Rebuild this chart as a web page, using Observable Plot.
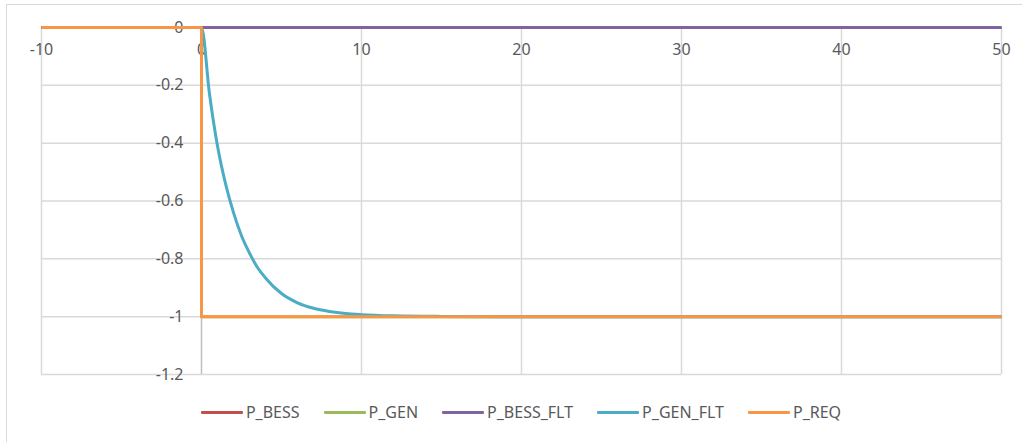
<!DOCTYPE html>
<html>
<head>
<meta charset="utf-8">
<script src="https://cdn.jsdelivr.net/npm/d3@7"></script>
<script src="https://cdn.jsdelivr.net/npm/@observablehq/plot@0.6"></script>
<style>
  html, body { margin: 0; padding: 0; background: #fff; overflow: hidden; }
  #wrap { position: relative; width: 1022px; height: 442px; font-family: "Noto Sans", sans-serif; }
  #frame { position: absolute; left: 6px; top: 4px; width: 1040px; height: 460px; border: 1.5px solid #d9d9d9; box-sizing: border-box; }
  #chart { position: absolute; left: 0; top: 0; }
  #legend { position: absolute; left: 41px; width: 960px; top: 401px; display: flex; justify-content: center; gap: 24px; color: #595959; font-size: 16px; }
  .item { display: flex; align-items: center; gap: 3px; }
  .sw { width: 42px; height: 3px; border-radius: 1px; }
</style>
</head>
<body>
<div id="wrap">
  <div id="frame"></div>
  <div id="chart"></div>
  <div id="legend"></div>
</div>
<script>
const seriesNames = ["P_BESS", "P_GEN", "P_BESS_FLT", "P_GEN_FLT", "P_REQ"];
const seriesColors = ["#C0504D", "#9BBB59", "#8064A2", "#4BACC6", "#F79646"];

const xTicks = [-10, 0, 10, 20, 30, 40, 50];
const yTicks = [0, -0.2, -0.4, -0.6, -0.8, -1, -1.2];

// step series
const stepT = [-10, 0, 0, 50];
const bessVals = [0, 0, 0, 0];
const genVals = [0, 0, -1, -1];
const reqVals = [0, 0, -1, -1];
// filtered series
const bessFltT = [-10, 0, 50];
const bessFltVals = [0, 0, 0];
const genFltT = [-10, 0, 0.5, 1, 1.5, 2, 2.5, 3, 3.5, 4, 5, 6, 7, 8, 9, 10, 12, 15, 20, 30, 40, 50];
const genFltVals = [0, 0, -0.23, -0.41, -0.54, -0.64, -0.72, -0.78, -0.83, -0.866, -0.92, -0.952, -0.971, -0.982, -0.989, -0.993, -0.997, -0.999, -1, -1, -1, -1];

const rows = [];
stepT.forEach((t, i) => rows.push({s: "P_BESS", t, v: bessVals[i], i}));
stepT.forEach((t, i) => rows.push({s: "P_GEN", t, v: genVals[i], i}));
bessFltT.forEach((t, i) => rows.push({s: "P_BESS_FLT", t, v: bessFltVals[i], i}));
genFltT.forEach((t, i) => rows.push({s: "P_GEN_FLT", t, v: genFltVals[i], i}));
stepT.forEach((t, i) => rows.push({s: "P_REQ", t, v: reqVals[i], i}));

const fmt = d => String(d);
const gridColor = "#d9d9d9";

const chart = Plot.plot({
  width: 1022,
  height: 395,
  marginLeft: 41,
  marginRight: 21,
  marginTop: 27,
  marginBottom: 21,
  style: {fontFamily: "Noto Sans, sans-serif", fontSize: "16px", background: "transparent"},
  x: {domain: [-10, 50], axis: null},
  y: {domain: [-1.2, 0], axis: null},
  color: {domain: seriesNames, range: seriesColors},
  marks: [
    Plot.ruleY(yTicks.filter(d => d !== 0), {y: d => d, x1: -10, x2: 50, stroke: gridColor, strokeWidth: 1.5}),
    Plot.ruleX(xTicks.filter(d => d !== 0), {x: d => d, y1: 0, y2: -1.2, stroke: gridColor, strokeWidth: 1.5}),
    Plot.ruleX([0], {x: d => d, y1: 0, y2: -1.2, stroke: "#bfbfbf", strokeWidth: 1.5}),
    Plot.ruleY([0], {y: d => d, x1: -10, x2: 50, stroke: "#bfbfbf", strokeWidth: 1.5}),
    Plot.text(xTicks, {x: d => d, y: () => 0, text: d => fmt(d), dy: 22, fill: "#595959", textAnchor: "middle"}),
    Plot.text(yTicks, {x: () => 0, y: d => d, text: d => fmt(d), dx: -18, fill: "#595959", textAnchor: "end"}),
    ...seriesNames.map(name => Plot.line(rows.filter(r => r.s === name), {
      x: "t", y: "v", stroke: seriesColors[seriesNames.indexOf(name)], strokeWidth: 3,
      curve: name === "P_GEN_FLT" ? "monotone-x" : "linear", strokeLinejoin: "round", strokeLinecap: "butt"
    }))
  ]
});
document.getElementById("chart").appendChild(chart);

const legend = document.getElementById("legend");
seriesNames.forEach((name, i) => {
  const item = document.createElement("div");
  item.className = "item";
  const sw = document.createElement("div");
  sw.className = "sw";
  sw.style.background = seriesColors[i];
  const lab = document.createElement("span");
  lab.textContent = name;
  item.appendChild(sw);
  item.appendChild(lab);
  legend.appendChild(item);
});
</script>
</body>
</html>
